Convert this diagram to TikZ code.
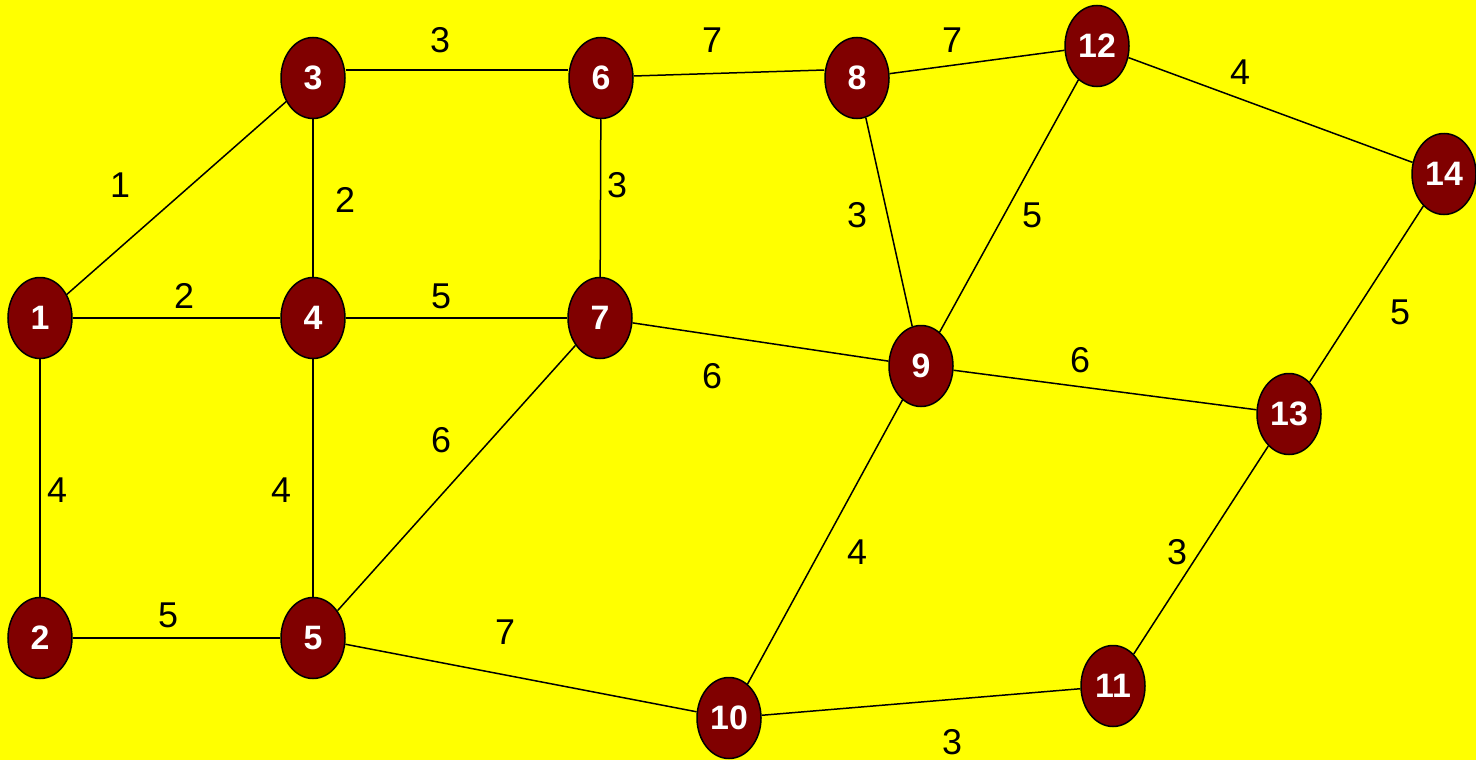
\documentclass[tikz,border=0pt]{standalone}
\usepackage{fontspec}
\setmainfont{Liberation Sans}
\usetikzlibrary{shapes.geometric}
\definecolor{bg}{HTML}{FFFF00}
\definecolor{vert}{HTML}{800000}
\begin{document}
\begin{tikzpicture}[x=0.5bp,y=-0.5bp,
 vtx/.style={ellipse,draw=black,line width=0.75bp,fill=vert,minimum width=32bp,minimum height=40.5bp,inner sep=0pt,text=white,font=\fontsize{17}{17}\selectfont\bfseries},
 wt/.style={font=\fontsize{18}{18}\selectfont,inner sep=0pt},
 edge/.style={line width=0.75bp}]
\fill[bg] (0,0) rectangle (1476,760);
\useasboundingbox (0,0) rectangle (1476,760);
\node[vtx] (n1) at (40,318) {1};
\node[vtx] (n2) at (40,638) {2};
\node[vtx] (n3) at (313,78) {3};
\node[vtx] (n4) at (313,318) {4};
\node[vtx] (n5) at (313,638) {5};
\node[vtx] (n6) at (601,78) {6};
\node[vtx] (n7) at (600,318) {7};
\node[vtx] (n8) at (857,78) {8};
\node[vtx] (n9) at (921,366) {9};
\node[vtx] (n10) at (729,718) {10};
\node[vtx] (n11) at (1113,686) {11};
\node[vtx] (n12) at (1097,46) {12};
\node[vtx] (n13) at (1289,414) {13};
\node[vtx] (n14) at (1444,174) {14};
\draw[edge] (n1) -- (n3);
\draw[edge] ([yshift=4bp]n3.east) -- ([yshift=4bp]n6.west);
\draw[edge] ([yshift=1bp]n6.east) -- ([yshift=4bp]n8.west);
\draw[edge] (n8) -- (n12);
\draw[edge] (n12) -- (n14);
\draw[edge] (n3) -- (n4);
\draw[edge] (n6) -- (n7);
\draw[edge] (n8) -- (n9);
\draw[edge] (n12) -- (n9);
\draw[edge] (n14) -- (n13);
\draw[edge] (n1) -- (n4);
\draw[edge] (n4) -- (n7);
\draw[edge] (n7) -- (n9);
\draw[edge] (n9) -- (n13);
\draw[edge] (n1) -- (n2);
\draw[edge] (n4) -- (n5);
\draw[edge] (n5) -- (n7);
\draw[edge] (n9) -- (n10);
\draw[edge] (n13) -- (n11);
\draw[edge] (n2) -- (n5);
\draw[edge] (n5) -- (n10);
\draw[edge] (n10) -- (n11);
\node[wt] (w13) at (120,185) {1};
\node[wt] (w36) at (440,40) {3};
\node[wt] (w68) at (712,40) {7};
\node[wt] (w812) at (952,40) {7};
\node[wt] (w1214) at (1240,72) {4};
\node[wt] (w34) at (345,200) {2};
\node[wt] (w67) at (617,185) {3};
\node[wt] (w89) at (857,215) {3};
\node[wt] (w129) at (1032,215) {5};
\node[wt] (w1413) at (1400,312) {5};
\node[wt] (w14) at (184,296) {2};
\node[wt] (w47) at (441,296) {5};
\node[wt] (w79) at (712,376) {6};
\node[wt] (w913) at (1080,360) {6};
\node[wt] (w12) at (57,490) {4};
\node[wt] (w45) at (281,490) {4};
\node[wt] (w57) at (441,440) {6};
\node[wt] (w910) at (857,552) {4};
\node[wt] (w1311) at (1177,552) {3};
\node[wt] (w25) at (168,615) {5};
\node[wt] (w510) at (505,632) {7};
\node[wt] (w1011) at (952,742) {3};
\end{tikzpicture}
\end{document}
